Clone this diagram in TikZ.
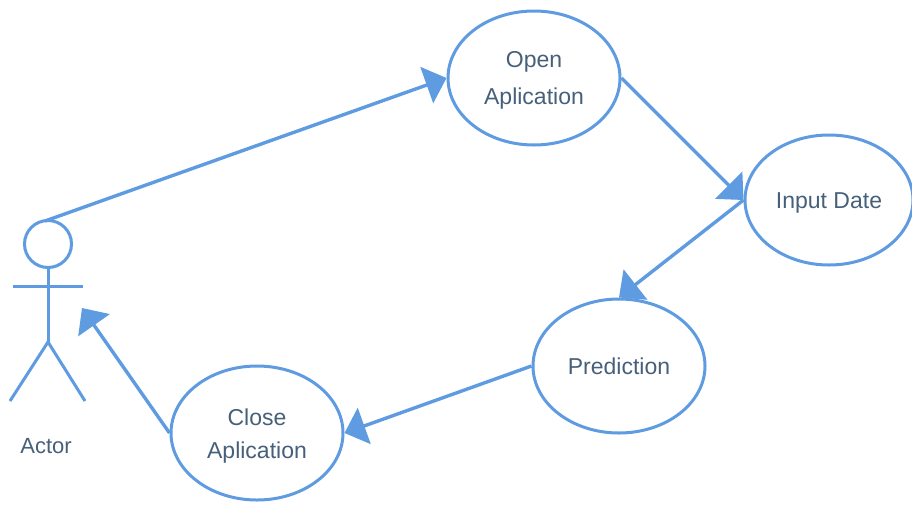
\documentclass[tikz,border=0pt]{standalone}
\usepackage{fontspec}
\setmainfont{Liberation Sans}
\usetikzlibrary{arrows.meta,shapes.geometric}
\definecolor{ln}{HTML}{5E9BE0}
\definecolor{tx}{HTML}{46607A}
\begin{document}
\begin{tikzpicture}[x=1pt,y=-1pt,
 usecase/.style={draw=ln,line width=3pt,ellipse,inner sep=0pt,text=tx,font=\fontsize{23}{37}\selectfont,align=center},
 link/.style={draw=ln,line width=3.4pt,-{Triangle[length=21pt,width=38pt,fill=ln]}},
 stick/.style={draw=ln,line width=3pt},
 lab/.style={text=tx,font=\fontsize{22}{26}\selectfont,inner sep=0pt}]
\useasboundingbox (0,0) rectangle (912,504);
\node[usecase,minimum width=172pt,minimum height=134pt] (open) at (534,78) {\rule{0pt}{20pt}Open\\Aplication};
\node[usecase,minimum width=168pt,minimum height=130pt] (input) at (829,200) {\rule{0pt}{21pt}Input Date};
\node[usecase,minimum width=172pt,minimum height=134pt] (pred) at (619,366) {Prediction};
\node[usecase,minimum width=172pt,minimum height=134pt,font=\fontsize{23}{33}\selectfont] (close) at (257,433) {\rule{0pt}{23pt}Close\\Aplication};
\node[draw=ln,line width=3pt,circle,minimum size=47pt,inner sep=0pt] (head) at (48,244) {};
\coordinate (hip) at (48,342);
\coordinate (la) at (13,286);
\coordinate (ra) at (83,286);
\coordinate (lf) at (10,401);
\coordinate (rf) at (85,401);
\coordinate (actorin) at (82,308);
\coordinate (actorout) at (45,221);
\draw[stick] (head.south) -- (hip);
\draw[stick] (la) -- (ra);
\draw[stick] (lf) -- (hip) -- (rf);
\node[lab] (actor) at (46,446) {Actor};
\draw[link] (actorout) -- (open.west);
\draw[link] (open.east) -- (input.west);
\draw[link] (input.west) -- (pred.north);
\draw[link] (pred.west) -- (close.east);
\draw[link] (close.west) -- (actorin);
\end{tikzpicture}
\end{document}
